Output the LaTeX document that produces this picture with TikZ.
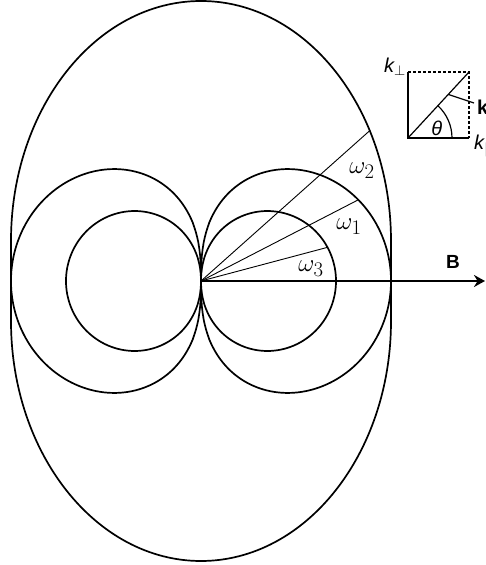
\documentclass[tikz,border=0pt]{standalone}
\usepackage{fontspec}
\setmainfont{Liberation Sans}
\usetikzlibrary{arrows.meta}
\begin{document}
\begin{tikzpicture}[x=1pt,y=1pt,
  curve/.style={line width=1.7pt},
  ray/.style={line width=0.9pt},
  inset/.style={line width=1.2pt},
  omg/.style={inner sep=0pt, font=\fontsize{28}{30}\selectfont},
  klbl/.style={inner sep=0pt, font=\fontsize{20}{22}\selectfont}]
\useasboundingbox (-201,-284) rectangle (285,281);
\coordinate (O) at (0,0);
% outer oval
\draw[curve] (190,-40) -- (190,40)
  arc[start angle=0,end angle=180,x radius=190,y radius=240]
  -- (-190,-40)
  arc[start angle=180,end angle=360,x radius=190,y radius=240] -- cycle;
% big lobes
\draw[curve] (O) -- plot[domain=-89.99:89.99,samples=181]
  ({190*pow(cos(\x),0.6)*cos(\x)},{190*pow(cos(\x),0.6)*sin(\x)}) -- cycle;
\draw[curve] (O) -- plot[domain=-89.99:89.99,samples=181]
  ({-190*pow(cos(\x),0.6)*cos(\x)},{190*pow(cos(\x),0.6)*sin(\x)}) -- cycle;
% small lobes
\draw[curve] (O) -- plot[domain=-89.99:89.99,samples=181]
  ({135*pow(cos(\x),0.9)*cos(\x)},{135*pow(cos(\x),0.9)*sin(\x)}) -- cycle;
\draw[curve] (O) -- plot[domain=-89.99:89.99,samples=181]
  ({-135*pow(cos(\x),0.9)*cos(\x)},{135*pow(cos(\x),0.9)*sin(\x)}) -- cycle;
% rays
\coordinate (R2) at (41.7:226.5);
\coordinate (R1) at (27.3:177);
\coordinate (R3) at (14.9:131);
\draw[ray] (O) -- (R2);
\draw[ray] (O) -- (R1);
\draw[ray] (O) -- (R3);
% axis
\coordinate (Bend) at (284,0);
\draw[line width=2pt,-{Stealth[length=11pt,width=12pt]}] (O) -- (Bend);
\node[inner sep=0pt,font=\bfseries\fontsize{19}{21}\selectfont] (B) at (252,19) {B};
% labels
\node[omg] (w2) at (161,110) {$\omega_2$};
\node[omg] (w1) at (148,54) {$\omega_1$};
\node[omg] (w3) at (110,12) {$\omega_3$};
% inset
\coordinate (BL) at (207,143);
\coordinate (TR) at (268,209);
\coordinate (TL) at (207,209);
\coordinate (BR) at (268,143);
\draw[inset] (TL) -- (BL) -- (BR);
\draw[inset,dash pattern=on 3pt off 2pt] (TL) -- (TR) -- (BR);
\draw[inset] (BL) -- (TR);
\draw[inset] (251,143) arc[start angle=0,end angle=47.3,radius=44];
\coordinate (KP) at (247.3,186.6);
\coordinate (KE) at (273,178);
\draw[inset] (KP) -- (KE);
\node[klbl] (kperp) at (194,214) {\itshape k$_\perp$};
\node[klbl] (theta) at (235.7,152.5) {\itshape θ};
\node[klbl,anchor=west,font=\bfseries\fontsize{20}{22}\selectfont] (kvec) at (276,174) {k};
\node[klbl,anchor=west] (kpar) at (273,135) {\itshape k$_\parallel$};
\end{tikzpicture}
\end{document}
